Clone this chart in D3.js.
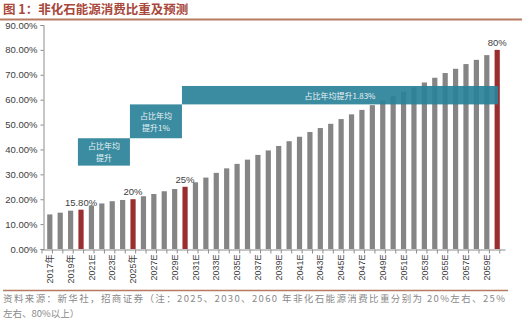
<!DOCTYPE html>
<html>
<head>
<meta charset="utf-8">
<script src="https://cdn.jsdelivr.net/npm/d3@7"></script>
<style>
  body { margin: 0; background: #fff; }
  svg { display: block; font-family: "Liberation Sans", "Noto Sans CJK SC", sans-serif; }
</style>
</head>
<body>
<script>
// years 2017..2060, actual up to 2020, estimates after
const years = [2017, 2018, 2019, 2020, 2021, 2022, 2023, 2024, 2025, 2026,
               2027, 2028, 2029, 2030, 2031, 2032, 2033, 2034, 2035, 2036,
               2037, 2038, 2039, 2040, 2041, 2042, 2043, 2044, 2045, 2046,
               2047, 2048, 2049, 2050, 2051, 2052, 2053, 2054, 2055, 2056,
               2057, 2058, 2059, 2060];
const shares = [0.139, 0.146, 0.154, 0.158, 0.175, 0.183, 0.192, 0.197, 0.20, 0.212,
                0.221, 0.232, 0.241, 0.25, 0.268, 0.287, 0.306, 0.324, 0.342, 0.359,
                0.378, 0.396, 0.414, 0.433, 0.451, 0.470, 0.486, 0.503, 0.522, 0.541,
                0.559, 0.578, 0.597, 0.614, 0.632, 0.649, 0.669, 0.688, 0.707, 0.724,
                0.743, 0.760, 0.779, 0.80];
const labels = {2017: '2017年', 2019: '2019年', 2025: '2025年'};
const targets = [2020, 2025, 2030, 2060];
const targetText = ['15.80%', '20%', '25%', '80%'];
const periods = [[2020, 2025], [2025, 2030], [2030, 2060]];
const periodText = [['占比年均', '提升'], ['占比年均', '提升1%'], ['占比年均提升1.83%']];
const yTicks = [0, 0.1, 0.2, 0.3, 0.4, 0.5, 0.6, 0.7, 0.8, 0.9];

const width = 522, height = 328;
const plotLeft = 42, plotRight = 505, plotTop = 25, plotBottom = 249;

const svg = d3.select('body').append('svg')
    .attr('width', width)
    .attr('height', height);

// title and rule
svg.append('text')
    .attr('x', 3).attr('y', 14)
    .attr('font-family', '"Noto Sans CJK SC", sans-serif')
    .attr('font-weight', 'bold')
    .attr('font-size', 12.5)
    .attr('fill', '#a8473a')
    .text('图 1：非化石能源消费比重及预测');
svg.append('line')
    .attr('x1', 0).attr('x2', 522).attr('y1', 19.5).attr('y2', 19.5)
    .attr('stroke', '#b87a62').attr('stroke-width', 2);

const x = d3.scaleBand()
    .domain(years)
    .range([plotLeft, plotRight])
    .padding(0.5);

const y = d3.scaleLinear()
    .domain([0, 0.9])
    .range([plotBottom, plotTop]);

// bars
svg.append('g').selectAll('rect')
    .data(years)
    .enter().append('rect')
      .attr('x', (d) => x(d))
      .attr('y', (d, i) => y(shares[i]))
      .attr('width', x.bandwidth())
      .attr('height', (d, i) => plotBottom - y(shares[i]))
      .attr('fill', (d) => targets.includes(d) ? '#9a2e2e' : '#858585');

// period boxes
const boxes = [[0.445, 0.335], [0.581, 0.445], [0.655, 0.581]];
const ends = [-0.5, -0.5, 3.5];
periods.forEach((p, i) => {
    const bx0 = x(p[0]) - 0.5;
    const bx1 = x(p[1]) + ends[i];
    const by0 = y(boxes[i][0]), by1 = y(boxes[i][1]);
    svg.append('rect')
        .attr('x', bx0).attr('y', by0)
        .attr('width', bx1 - bx0).attr('height', by1 - by0)
        .attr('fill', '#2a8299')
        .attr('opacity', 0.92);
    const lines = periodText[i];
    const cx = (bx0 + bx1) / 2;
    const cy = (by0 + by1) / 2;
    lines.forEach((t, j) => {
        svg.append('text')
            .attr('x', i === 2 ? 340 : cx)
            .attr('y', cy + (j - (lines.length - 1) / 2) * 12 + 3.5)
            .attr('text-anchor', 'middle')
            .attr('font-family', '"Noto Sans CJK SC", sans-serif')
            .attr('font-size', 8)
            .attr('fill', '#e8f2f5')
            .text(t);
    });
});

// value labels on highlighted bars
svg.append('g').selectAll('text')
    .data(targets)
    .enter().append('text')
      .attr('x', (d) => x(d) + x.bandwidth() / 2)
      .attr('y', (d) => y(shares[years.indexOf(d)]) - 4)
      .attr('text-anchor', 'middle')
      .attr('font-size', 9.5)
      .attr('fill', '#404040')
      .text((d, i) => targetText[i]);

// y axis
const yAxis = svg.append('g')
    .attr('transform', `translate(${plotLeft + 1.5}, 0)`)
    .call(d3.axisLeft(y).tickValues(yTicks).tickFormat(d3.format('.2%')).tickSize(3));
yAxis.selectAll('text')
    .attr('font-size', 9.5)
    .attr('fill', '#404040')
    .attr('font-family', '"Liberation Sans", sans-serif');
yAxis.selectAll('path, line').attr('stroke', '#8c8c8c');

// x axis, ticks between categories, labels every other year
const xAxis = svg.append('g')
    .attr('transform', `translate(0, ${plotBottom + 0.5})`)
    .call(d3.axisBottom(x).tickSize(0).tickFormat((d, i) => i % 2 === 0 ? (labels[d] || d + 'E') : ''));
xAxis.select('.domain').attr('stroke', '#8c8c8c');
xAxis.selectAll('.tick text')
    .attr('transform', 'rotate(-90)')
    .attr('text-anchor', 'end')
    .attr('x', -5)
    .attr('y', 0)
    .attr('dy', '0.35em')
    .attr('font-size', 9)
    .attr('fill', '#404040')
    .attr('font-family', '"Liberation Sans", "Noto Sans CJK SC", sans-serif');
xAxis.append('g').selectAll('line')
    .data(years.concat([null]))
    .enter().append('line')
      .attr('x1', (d, i) => plotLeft + i * x.step())
      .attr('x2', (d, i) => plotLeft + i * x.step())
      .attr('y1', 0).attr('y2', 4)
      .attr('stroke', '#8c8c8c');

// source note
svg.append('line')
    .attr('x1', 3).attr('x2', 508).attr('y1', 290.5).attr('y2', 290.5)
    .attr('stroke', '#b87a62').attr('stroke-width', 1.5);
const note = ['资料来源：新华社，招商证券（注：2025、2030、2060 年非化石能源消费比重分别为 20%左右、25%',
              '左右、80%以上）'];
note.forEach((t, i) => {
    svg.append('text')
        .attr('x', 3).attr('y', 302 + i * 15)
        .attr('font-family', '"Noto Sans CJK SC", sans-serif')
        .attr('font-size', 9.5)
        .attr('fill', '#8a8a8a')
        .attr('textLength', i === 0 ? 502 : null)
        .text(t);
});
</script>
</body>
</html>
